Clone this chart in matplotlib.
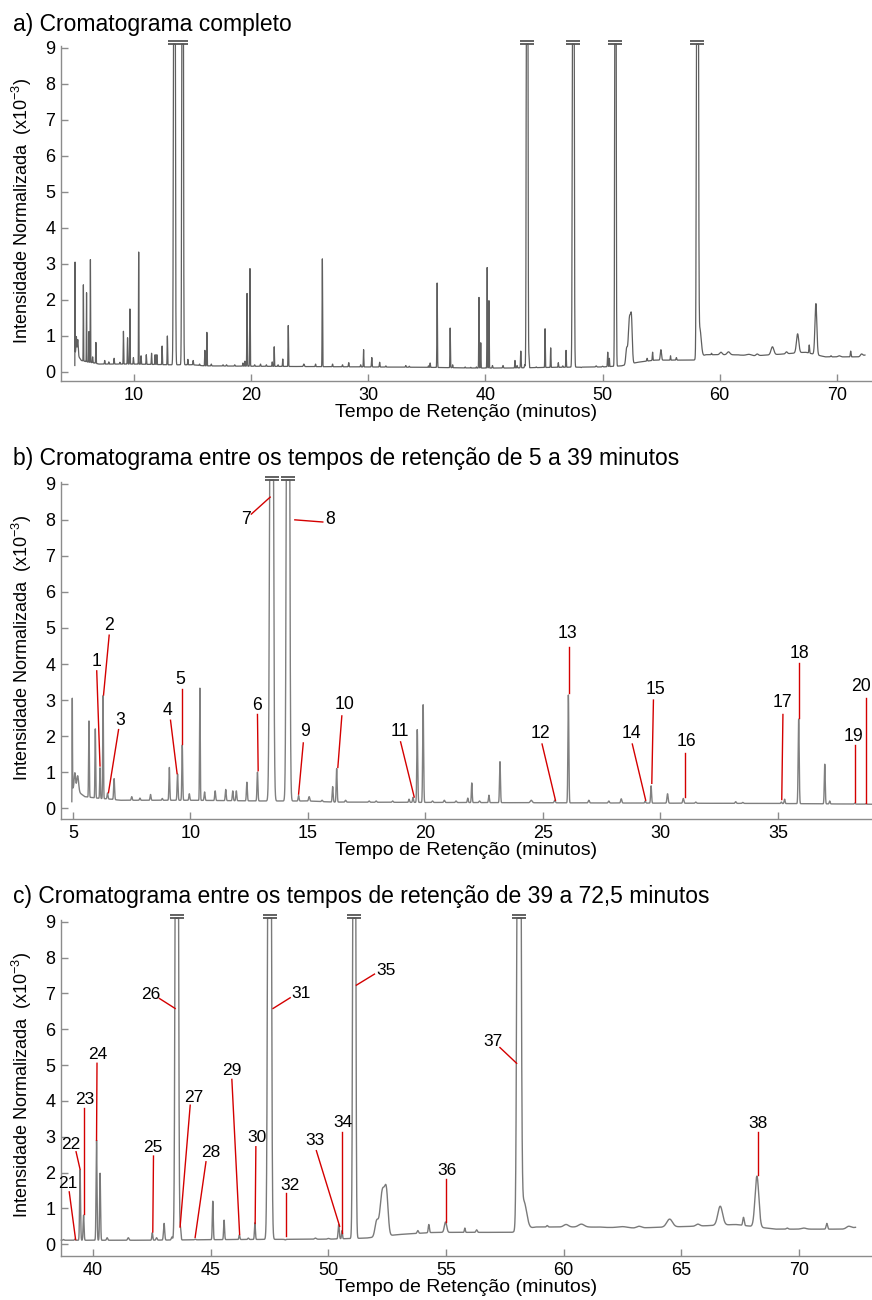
import numpy as np
import matplotlib
matplotlib.use("Agg")
import matplotlib.pyplot as plt

plt.rcParams['font.family'] = ['Liberation Sans', 'DejaVu Sans']
plt.rcParams['mathtext.fontset'] = 'custom'
plt.rcParams['mathtext.rm'] = 'Liberation Sans'
plt.rcParams['mathtext.default'] = 'regular'

# ------------------ Data ------------------
# baseline of the chromatogram (time in min, intensity x10^-3)
base_t = [4.95, 4.99, 5.3, 5.5, 6.0, 6.6, 7.0, 10.0, 13.0, 15.0, 16.0, 20.0, 25.0, 30.0,
          35.0, 39.0, 42.0, 46.0, 50.0, 51.6, 53.0, 54.5, 57.8, 58.8, 61.0, 63.0, 64.0,
          65.5, 67.3, 69.0, 72.0, 72.4]
base_v = [0.06, 0.55, 0.42, 0.32, 0.28, 0.25, 0.22, 0.22, 0.2, 0.2, 0.17, 0.16, 0.15, 0.14,
          0.13, 0.11, 0.11, 0.13, 0.14, 0.17, 0.27, 0.33, 0.33, 0.48, 0.48, 0.45, 0.47,
          0.5, 0.55, 0.42, 0.42, 0.47]

# peaks: retention time, apex intensity, width (sigma, min)
peak_t = [4.97, 5.08, 5.2, 5.68, 5.95, 6.15, 6.28, 6.47, 6.75, 7.5, 7.85, 8.3, 8.8,
          9.1, 9.45, 9.65, 9.95, 10.4, 10.6, 11.05, 11.5, 11.8, 11.95, 12.4, 12.85,
          13.45, 14.15, 14.6, 15.05, 15.6, 16.05, 16.22, 16.6, 17.6, 17.9, 18.6, 19.3,
          19.47, 19.65, 19.9, 20.3, 20.8, 21.3, 21.8, 21.97, 22.3, 22.7, 23.17, 24.5,
          25.5, 26.08, 26.95, 27.8, 28.33, 29.35, 29.6, 30.3, 30.97, 31.5, 33.2, 33.5,
          35.14, 35.28, 35.88, 36.99, 37.2, 38.27, 38.75,
          39.23, 39.45, 39.6, 40.15, 40.3, 40.6, 41.5, 42.52, 42.7, 43.02, 43.35, 43.56,
          43.72, 44.34, 45.09, 45.57, 46.22, 46.6, 46.88, 47.5, 48.17, 49.45, 50.0,
          50.44, 50.58, 51.1, 52.05, 52.3, 52.47, 53.8, 54.27, 54.98, 55.8, 56.3, 58.1,
          58.3, 59.3, 60.1, 60.75, 61.5, 62.5, 63.2, 64.5, 65.7, 66.65, 67.64, 68.21,
          69.5, 70.2, 71.18, 72.1]
peak_h = [3.05, 0.98, 0.9, 2.42, 2.2, 1.12, 3.12, 0.42, 0.82, 0.32, 0.28, 0.38, 0.27,
          1.13, 0.95, 1.75, 0.4, 3.33, 0.45, 0.48, 0.52, 0.48, 0.48, 0.72, 1.0,
          40.0, 40.0, 0.35, 0.32, 0.22, 0.6, 1.1, 0.22, 0.2, 0.2, 0.2, 0.25,
          0.3, 2.18, 2.87, 0.2, 0.22, 0.2, 0.28, 0.7, 0.2, 0.36, 1.29, 0.22,
          0.22, 3.14, 0.22, 0.2, 0.26, 0.2, 0.62, 0.4, 0.27, 0.17, 0.18, 0.16,
          0.17, 0.25, 2.47, 1.22, 0.2, 0.14, 0.13,
          0.14, 2.07, 0.81, 2.9, 1.98, 0.18, 0.18, 0.32, 0.18, 0.58, 0.2, 40.0,
          0.4, 0.14, 1.2, 0.67, 0.26, 0.17, 0.6, 40.0, 0.12, 0.17, 0.16,
          0.55, 0.38, 40.0, 0.62, 1.5, 1.28, 0.38, 0.55, 0.62, 0.45, 0.4, 40.0,
          1.2, 0.52, 0.55, 0.56, 0.48, 0.49, 0.5, 0.7, 0.56, 1.06, 0.75, 1.9,
          0.45, 0.45, 0.58, 0.5]
peak_w = [0.008, 0.03, 0.04, 0.015, 0.015, 0.015, 0.015, 0.02, 0.02, 0.02, 0.02, 0.02, 0.02,
          0.018, 0.02, 0.018, 0.02, 0.015, 0.02, 0.02, 0.02, 0.02, 0.02, 0.02, 0.02,
          0.05, 0.045, 0.02, 0.025, 0.025, 0.02, 0.02, 0.025, 0.025, 0.025, 0.025, 0.02,
          0.02, 0.02, 0.02, 0.025, 0.025, 0.025, 0.02, 0.018, 0.025, 0.02, 0.02, 0.04,
          0.025, 0.02, 0.025, 0.025, 0.025, 0.02, 0.02, 0.025, 0.025, 0.025, 0.025, 0.025,
          0.02, 0.02, 0.022, 0.02, 0.02, 0.02, 0.02,
          0.02, 0.02, 0.02, 0.02, 0.02, 0.025, 0.03, 0.02, 0.025, 0.025, 0.025, 0.045,
          0.02, 0.025, 0.02, 0.02, 0.02, 0.025, 0.02, 0.05, 0.025, 0.04, 0.04,
          0.025, 0.02, 0.04, 0.07, 0.1, 0.07, 0.03, 0.025, 0.05, 0.02, 0.03, 0.055,
          0.12, 0.03, 0.1, 0.12, 0.1, 0.2, 0.1, 0.12, 0.08, 0.1, 0.03, 0.08,
          0.04, 0.1, 0.03, 0.1]

# truncated peaks (drawn with "=" cut marks)
cut_a = [13.8, 43.56, 47.5, 51.1, 58.1]
cut_b = [13.45, 14.15]
cut_c = [43.56, 47.5, 51.1, 58.1]

# numbered compounds
ids_b = ['1', '2', '3', '4', '5', '6', '7', '8', '9', '10', '11', '12', '13', '14',
         '15', '16', '17', '18', '19', '20']
ids_c = ['21', '22', '23', '24', '25', '26', '27', '28', '29', '30', '31', '32', '33',
         '34', '35', '36', '37', '38']

titles = ['a) Cromatograma completo',
          'b) Cromatograma entre os tempos de retenção de 5 a 39 minutos',
          'c) Cromatograma entre os tempos de retenção de 39 a 72,5 minutos']
xticks_a = [10, 20, 30, 40, 50, 60, 70]
xticks_b = [5, 10, 15, 20, 25, 30, 35]
xticks_c = [40, 45, 50, 55, 60, 65, 70]
yticks = [0, 1, 2, 3, 4, 5, 6, 7, 8, 9]

# ------------------ Label layout: text x, y, line start x, y, line end x, y ------------------
lay_b = [(6.01, 4.06, 6.01, 3.81, 6.15, 1.17), (6.54, 5.08, 6.54, 4.8, 6.3, 3.14),
         (7.0, 2.43, 6.94, 2.18, 6.51, 0.43), (9.03, 2.7, 9.15, 2.44, 9.43, 0.96),
         (9.57, 3.57, 9.64, 3.32, 9.64, 1.78), (12.82, 2.86, 12.85, 2.6, 12.88, 1.04),
         (12.35, 8.0, 12.59, 8.16, 13.39, 8.63), (15.94, 8.0, 15.63, 7.94, 14.44, 8.0),
         (14.87, 2.14, 14.8, 1.81, 14.6, 0.39), (16.55, 2.88, 16.44, 2.56, 16.27, 1.13),
         (18.9, 2.14, 18.94, 1.84, 19.52, 0.31), (24.91, 2.07, 24.96, 1.78, 25.53, 0.22),
         (26.05, 4.85, 26.1, 4.48, 26.1, 3.2), (28.77, 2.07, 28.8, 1.78, 29.37, 0.22),
         (29.77, 3.28, 29.7, 3.0, 29.63, 0.69), (31.11, 1.84, 31.03, 1.54, 31.03, 0.31),
         (35.18, 2.93, 35.21, 2.6, 35.16, 0.24), (35.9, 4.3, 35.9, 4.04, 35.9, 2.49),
         (38.23, 1.98, 38.27, 1.76, 38.27, 0.18), (38.55, 3.37, 38.75, 3.05, 38.75, 0.15)]
lay_c = [(38.95, 1.7, 38.99, 1.46, 39.26, 0.13), (39.06, 2.79, 39.28, 2.58, 39.45, 2.09),
         (39.66, 4.04, 39.63, 3.79, 39.63, 0.84), (40.2, 5.3, 40.17, 5.05, 40.15, 2.9),
         (42.54, 2.7, 42.57, 2.46, 42.54, 0.34), (42.47, 6.98, 42.82, 6.86, 43.49, 6.58),
         (44.27, 4.1, 44.13, 3.88, 43.7, 0.48), (45.02, 2.55, 44.8, 2.3, 44.34, 0.19),
         (45.9, 4.86, 45.9, 4.6, 46.23, 0.27), (46.97, 2.97, 46.92, 2.72, 46.89, 0.58),
         (48.85, 7.0, 48.38, 6.88, 47.65, 6.58), (48.35, 1.65, 48.2, 1.44, 48.2, 0.22),
         (49.45, 2.9, 49.49, 2.61, 50.48, 0.5), (50.63, 3.4, 50.58, 3.14, 50.58, 0.32),
         (52.46, 7.65, 51.96, 7.54, 51.19, 7.23), (55.02, 2.05, 55.0, 1.81, 55.0, 0.62),
         (57.0, 5.65, 57.29, 5.49, 58.0, 5.05), (68.24, 3.37, 68.24, 3.14, 68.24, 1.93)]

CAP = 9.1
RED = '#d40000'


def build_trace(t):
  y = np.interp(t, base_t, base_v)
  for pt, ph, pw in zip(peak_t, peak_h, peak_w):
    amp = ph - np.interp(pt, base_t, base_v)
    y = y + amp * np.exp(-0.5 * ((t - pt) / pw) ** 2)
  return np.minimum(y, CAP)


def style_axis(ax, xlim, ylim, xticks):
  ax.set_xlim(xlim)
  ax.set_ylim(ylim)
  ax.set_xticks(xticks)
  ax.set_yticks(yticks)
  for s in ['top', 'right']:
    ax.spines[s].set_visible(False)
  for s in ['left', 'bottom']:
    ax.spines[s].set_color('#8c8c8c')
    ax.spines[s].set_linewidth(1.0)
  ax.tick_params(direction='in', length=5, width=1, color='#8c8c8c', labelsize=13, pad=4)
  ax.set_xlabel('Tempo de Retenção (minutos)', fontsize=14, labelpad=0)


def cut_marks(ax, xs, sizes):
  for x, ms in zip(xs, sizes):
    for yy in [CAP + 0.01, CAP + 0.09]:
      ax.plot([x], [yy], marker='_', ms=ms, mew=1.3, color='#555555', clip_on=False)


def label_peaks(ax, ids, lay, fs):
  for lab, (tx, ty, x0, y0, x1, y1) in zip(ids, lay):
    ax.plot([x0, x1], [y0, y1], color=RED, lw=1.0, clip_on=False)
    ax.text(tx, ty, lab, ha='center', va='center', fontsize=fs)


# ------------------ Figure ------------------
fig = plt.figure(figsize=(8.72, 13.0), dpi=100)
W, H = 872.0, 1300.0

t = np.arange(4.95, 72.4, 0.002)
y = build_trace(t)

# panel geometry in pixels: top, bottom
boxes = [(46, 381), (482, 819), (920, 1256)]
axes = []
for top, bot in boxes:
  axes.append(fig.add_axes([61 / W, 1 - bot / H, 1 - 61 / W, (bot - top) / H]))
ax_a, ax_b, ax_c = axes

# a) full chromatogram
ax_a.plot(t, y, color='#5f5f5f', lw=0.9, clip_on=False)
style_axis(ax_a, (3.77, 73.0), (-0.25, 9.05), xticks_a)
cut_marks(ax_a, cut_a, [15, 9.5, 9.5, 9.5, 9.5])

# b) 5 - 39 min
m = t <= 39.0
ax_b.plot(t[m], y[m], color='#808080', lw=1.0, clip_on=False)
style_axis(ax_b, (4.49, 39.0), (-0.3, 9.05), xticks_b)
cut_marks(ax_b, cut_b, [9.5, 9.5])
label_peaks(ax_b, ids_b, lay_b, 12.7)

# c) 39 - 72.5 min
m = t >= 38.65
ax_c.plot(t[m], y[m], color='#7a7a7a', lw=1.0, clip_on=False)
style_axis(ax_c, (38.64, 73.1), (-0.33, 9.05), xticks_c)
cut_marks(ax_c, cut_c, [9.5, 9.5, 9.5, 9.5])
label_peaks(ax_c, ids_c, lay_c, 12.5)

# titles and y labels
title_y = [24, 459, 897]
for (top, bot), ttl, ty in zip(boxes, titles, title_y):
  fig.text(13 / W, 1 - ty / H, ttl, fontsize=16.5, ha='left', va='center')
  fig.text(22 / W, 1 - ((top + bot) / 2 - 3) / H, 'Intensidade Normalizada  (x10$^{-3}$)',
           fontsize=13, rotation=90, ha='center', va='center')

fig.savefig('out.png', dpi=100)
